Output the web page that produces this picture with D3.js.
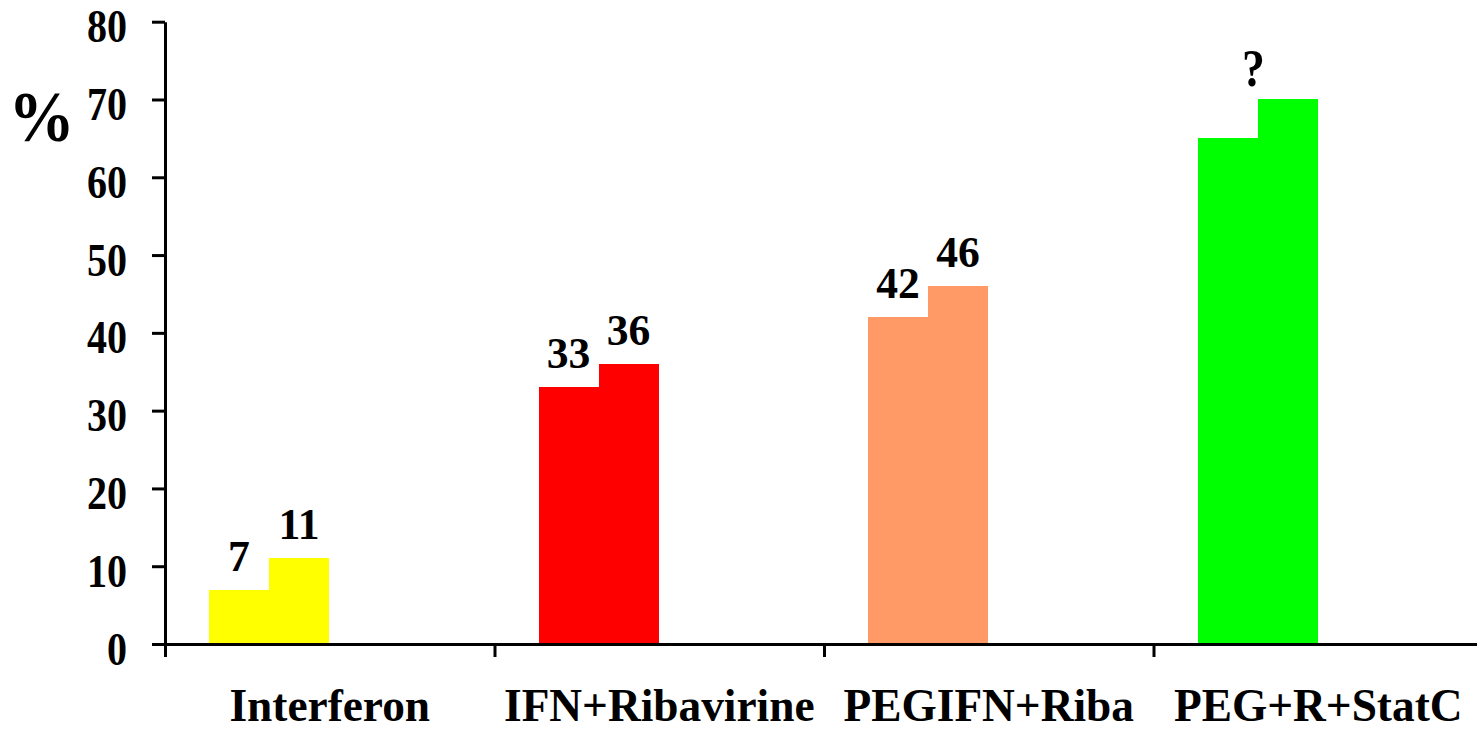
<!DOCTYPE html>
<html>
<head>
<meta charset="utf-8">
<script src="https://cdn.jsdelivr.net/npm/d3@7"></script>
<style>
  html, body { margin: 0; padding: 0; background: #fff; }
  svg { display: block; }
  text { font-family: "Liberation Serif", "Times New Roman", serif; font-weight: bold; fill: #000; }
</style>
</head>
<body>
<svg id="chart" width="1477" height="730"></svg>
<script>
// Treatments and their two response rates (%)
const categories = ["Interferon", "IFN+Ribavirine", "PEGIFN+Riba", "PEG+R+StatC"];
const seriesA = [7, 33, 42, 65];
const seriesB = [11, 36, 46, 70];
const labelsA = ["7", "33", "42", ""];
const labelsB = ["11", "36", "46", ""];
const colors = ["#FFFF00", "#FF0000", "#FF9966", "#00FF00"];
const yTicks = [0, 10, 20, 30, 40, 50, 60, 70, 80];
const unknownMark = "?";

const svg = d3.select("#chart");

const x0 = 165, x1 = 1483;
const y0 = 644, y1 = 21.7;

const x = d3.scaleBand().domain(categories).range([x0, x1]).padding(0);
const y = d3.scaleLinear().domain([0, 80]).range([y0, y1]);
// two bars side by side, sitting in the left part of each category slot
const sub = d3.scaleBand().domain(["a", "b"]).range([44, 164]).padding(0);

// text placed at (px, py), narrowed horizontally by sx
function label(parent, px, py, txt, size, sx, anchor) {
  return parent.append("text")
    .attr("transform", `translate(${px},${py}) scale(${sx},1)`)
    .attr("text-anchor", anchor || "middle")
    .attr("font-size", size)
    .text(txt);
}

// bars
const g = svg.append("g").attr("shape-rendering", "crispEdges");
categories.forEach((c, i) => {
  [["a", seriesA[i]], ["b", seriesB[i]]].forEach(([k, v]) => {
    g.append("rect")
      .attr("x", x(c) + sub(k))
      .attr("y", y(v))
      .attr("width", sub.bandwidth())
      .attr("height", y(0) - y(v))
      .attr("fill", colors[i]);
  });
});

// value labels
categories.forEach((c, i) => {
  [["a", seriesA[i], labelsA[i]], ["b", seriesB[i], labelsB[i]]].forEach(([k, v, t]) => {
    if (!t) return;
    label(svg, x(c) + sub(k) + sub.bandwidth() / 2, y(v) - 19, t, 45, 0.97);
  });
});

// question mark over the last pair
label(svg, x(categories[3]) + sub("b") - 4, y(seriesB[3]) - 13, unknownMark, 52, 0.88);

// y axis
const yAxis = d3.axisLeft(y).tickValues(yTicks).tickSize(13).tickPadding(25).tickSizeOuter(0);
const ya = svg.append("g").attr("transform", `translate(${x0},0)`).call(yAxis);
ya.select(".domain").attr("stroke", "#000").attr("stroke-width", 3);
ya.selectAll(".tick line").attr("stroke", "#000").attr("stroke-width", 3);
ya.selectAll(".tick text")
  .attr("x", null)
  .attr("dy", null)
  .attr("transform", "translate(-38,20) scale(0.87,1)")
  .attr("font-size", 46)
  .attr("font-family", "Liberation Serif, Times New Roman, serif")
  .attr("font-weight", "bold")
  .attr("fill", "#000");

// x axis with ticks at category boundaries
const boundaries = categories.map(c => x(c)).concat([x1]);
const xb = d3.scaleLinear().domain([x0, x1]).range([x0, x1]);
const xAxis = d3.axisBottom(xb).tickValues(boundaries).tickSize(13).tickFormat("").tickSizeOuter(0);
const xa = svg.append("g").attr("transform", `translate(0,${y0})`).call(xAxis);
xa.select(".domain").attr("stroke", "#000").attr("stroke-width", 3);
xa.selectAll(".tick line").attr("stroke", "#000").attr("stroke-width", 3);

// category labels
categories.forEach(c => {
  label(svg, x(c) + x.bandwidth() / 2, 721, c, 47, 0.965);
});

// unit label
label(svg, 41.5, 141, "%", 72, 0.92);
</script>
</body>
</html>
